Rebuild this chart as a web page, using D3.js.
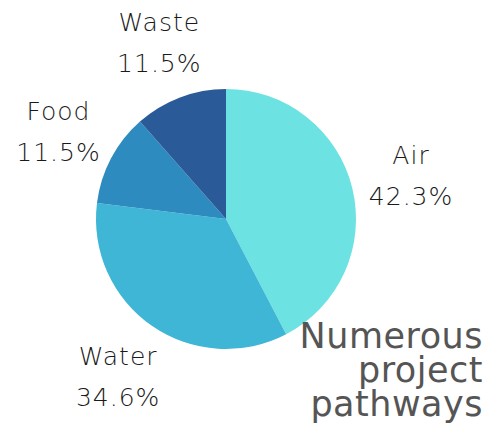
<!DOCTYPE html>
<html>
<head>
<meta charset="utf-8">
<script src="https://cdn.jsdelivr.net/npm/d3@7"></script>
<style>
  body { margin: 0; background: #fff; }
  text { font-family: "DejaVu Sans", "Open Sans", sans-serif; }
</style>
</head>
<body>
<svg id="chart" width="503" height="436"></svg>
<script>
const categories = ["Air", "Water", "Food", "Waste"];
const shares = [42.3, 34.6, 11.5, 11.5];
const colours = ["#6ce2e3", "#3fb6d6", "#2d8bbf", "#2a5b98"];
const titleLines = ["Numerous", "project", "pathways"];

const width = 503;
const height = 436;
const radius = 130;

const svg = d3.select("#chart");
const g = svg.append("g").attr("transform", "translate(226,219)");

const data = categories.map((c, i) => ({ name: c, value: shares[i] }));

const pie = d3.pie().sort(null).value(d => d.value);
const arc = d3.arc().innerRadius(0).outerRadius(radius);
const labelArc = d3.arc().innerRadius(190).outerRadius(190);
const colour = d3.scaleOrdinal().domain(categories).range(colours);

const arcs = pie(data);

g.selectAll("path")
    .data(arcs)
    .enter().append("path")
    .attr("d", arc)
    .attr("fill", d => colour(d.data.name));

const labels = g.selectAll("g.label")
    .data(arcs)
    .enter().append("g")
    .attr("class", "label")
    .attr("transform", d => `translate(${labelArc.centroid(d)})`);

function labelText(sel, y, fn) {
    sel.append("text")
        .attr("x", 0.5)
        .attr("y", y)
        .attr("text-anchor", "middle")
        .style("font-size", "25px")
        .style("font-weight", 200)
        .style("letter-spacing", "1px")
        .attr("fill", "#1a1a1a")
        .text(fn);
}

labelText(labels, -10, d => d.data.name);
labelText(labels, 31, d => d.data.value.toFixed(1) + "%");

svg.append("text")
    .attr("x", 483)
    .attr("y", 348)
    .attr("text-anchor", "end")
    .style("font-size", "35px")
    .style("letter-spacing", "0.5px")
    .attr("fill", "#555")
    .selectAll("tspan")
    .data(titleLines)
    .enter().append("tspan")
    .attr("x", 483)
    .attr("dy", (d, i) => i === 0 ? 0 : 34)
    .text(d => d);
</script>
</body>
</html>
